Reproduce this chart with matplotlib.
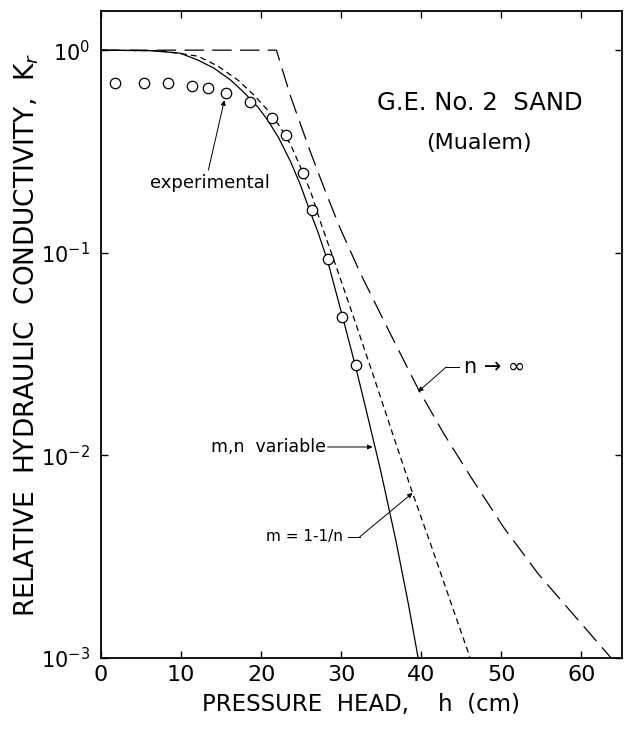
import matplotlib
matplotlib.use("Agg")
import matplotlib.pyplot as plt
from matplotlib.ticker import LogLocator, LogFormatterMathtext, MultipleLocator

plt.rcParams["font.family"] = ["DejaVu Sans"]
plt.rcParams["lines.scale_dashes"] = False

# ── data ─────────────────────────────────────────────
exp_h = [1.8, 5.3, 8.3, 11.4, 13.3, 15.6, 18.6, 21.4, 23.1, 25.2, 26.4, 28.3, 30.1, 31.8]
exp_k = [0.687, 0.687, 0.687, 0.664, 0.650, 0.614, 0.554, 0.462, 0.381, 0.247, 0.162,
         0.093, 0.048, 0.0279]

# m,n variable (solid)
var_h = [0, 6.2, 9.9, 12.1, 14.1, 16.2, 17.8, 19.6, 20.8, 22.2, 23.7, 24.9, 25.9, 27.1,
         28.3, 30.1, 31.8, 33.1, 34.9, 36.8, 38.4, 39.6]
var_k = [1.0, 0.994, 0.966, 0.893, 0.815, 0.711, 0.621, 0.523, 0.452, 0.368, 0.280, 0.216,
         0.168, 0.126, 0.091, 0.0493, 0.0273, 0.0168, 0.00847, 0.00383, 0.00183, 0.001]

# m = 1-1/n (short dash)
mn_h = [0, 7.4, 12.1, 14.6, 17.1, 19.1, 20.8, 22.2, 23.7, 24.9, 26.2, 27.4, 29.6, 31.7,
        33.9, 36.8, 38.9, 41.2, 43.7, 46.1]
mn_k = [1.0, 0.994, 0.934, 0.834, 0.711, 0.600, 0.506, 0.427, 0.340, 0.265, 0.199, 0.142,
        0.0803, 0.0460, 0.0255, 0.0115, 0.00652, 0.00361, 0.00187, 0.001]

# n -> infinity (long dash)
inf_h = [0, 21.9, 23.7, 26.2, 28.1, 29.9, 32.4, 35.9, 39.6, 42.8, 46.2, 50.3, 54.6, 59.1, 63.7]
inf_k = [1.0, 1.0, 0.586, 0.310, 0.197, 0.131, 0.079, 0.0415, 0.0213, 0.0128, 0.0078,
         0.0044, 0.0026, 0.00162, 0.0010]

# ── figure ───────────────────────────────────────────
fig = plt.figure(figsize=(6.24, 7.31), dpi=100)
ax = fig.add_axes([0.162, 0.0999, 0.834, 0.885])

ax.plot(var_h, var_k, color="black", lw=0.9)
ax.plot(mn_h, mn_k, color="black", lw=0.9, linestyle=(0, (4.3, 2.9)))
ax.plot(inf_h, inf_k, color="black", lw=0.9, linestyle=(0, (14, 6)))
ax.plot(exp_h, exp_k, "o", mfc="white", mec="black", ms=7.5, mew=0.9)

ax.set_yscale("log")
ax.set_xlim(0, 65)
ax.set_ylim(1e-3, 1.56)
ax.xaxis.set_major_locator(MultipleLocator(10))
ax.yaxis.set_major_locator(LogLocator(base=10, numticks=10))
ax.yaxis.set_minor_locator(plt.NullLocator())
ax.yaxis.set_major_formatter(LogFormatterMathtext())
ax.tick_params(direction="in", length=5, width=1, top=True, right=True, color="black")
ax.tick_params(axis="x", pad=5, labelsize=16)
ax.tick_params(axis="y", pad=8, labelsize=15)
for s in ax.spines.values():
    s.set_linewidth(1.3)

ax.set_xlabel("PRESSURE  HEAD,    h  (cm)", fontsize=16.5, labelpad=6)
ax.set_ylabel("RELATIVE  HYDRAULIC  CONDUCTIVITY,  K$_r$", fontsize=19)
ax.yaxis.set_label_coords(-0.115, 0.5)

# ── labels and leaders ───────────────────────────────
ax.text(47.3, 0.548, "G.E. No. 2  SAND", fontsize=17.5, ha="center", va="center")
ax.text(47.2, 0.348, "(Mualem)", fontsize=16, ha="center", va="center")

arrow = dict(arrowstyle="-|>", lw=0.7, color="black", mutation_scale=7,
             shrinkA=0, shrinkB=0)
ax.text(13.6, 0.221, "experimental", fontsize=13, ha="center", va="center")
ax.annotate("", xy=(15.4, 0.566), xytext=(13.4, 0.256), arrowprops=arrow)

ax.text(28.1, 0.011, "m,n  variable", fontsize=12.5, ha="right", va="center")
ax.annotate("", xy=(33.9, 0.011), xytext=(28.3, 0.011), arrowprops=arrow)

ax.text(30.2, 0.00396, "m = 1-1/n", fontsize=11, ha="right", va="center")
ax.plot([30.8, 32.3], [0.00396, 0.00396], color="black", lw=0.7)
ax.annotate("", xy=(38.9, 0.00652), xytext=(32.3, 0.00396), arrowprops=arrow)

ax.text(45.3, 0.0273, "n \u2192 \u221e", fontsize=15, ha="left", va="center")
ax.plot([44.7, 43.1], [0.0273, 0.0273], color="black", lw=0.7)
ax.annotate("", xy=(39.6, 0.0206), xytext=(43.1, 0.0273), arrowprops=arrow)

plt.savefig("out.png", dpi=100)
